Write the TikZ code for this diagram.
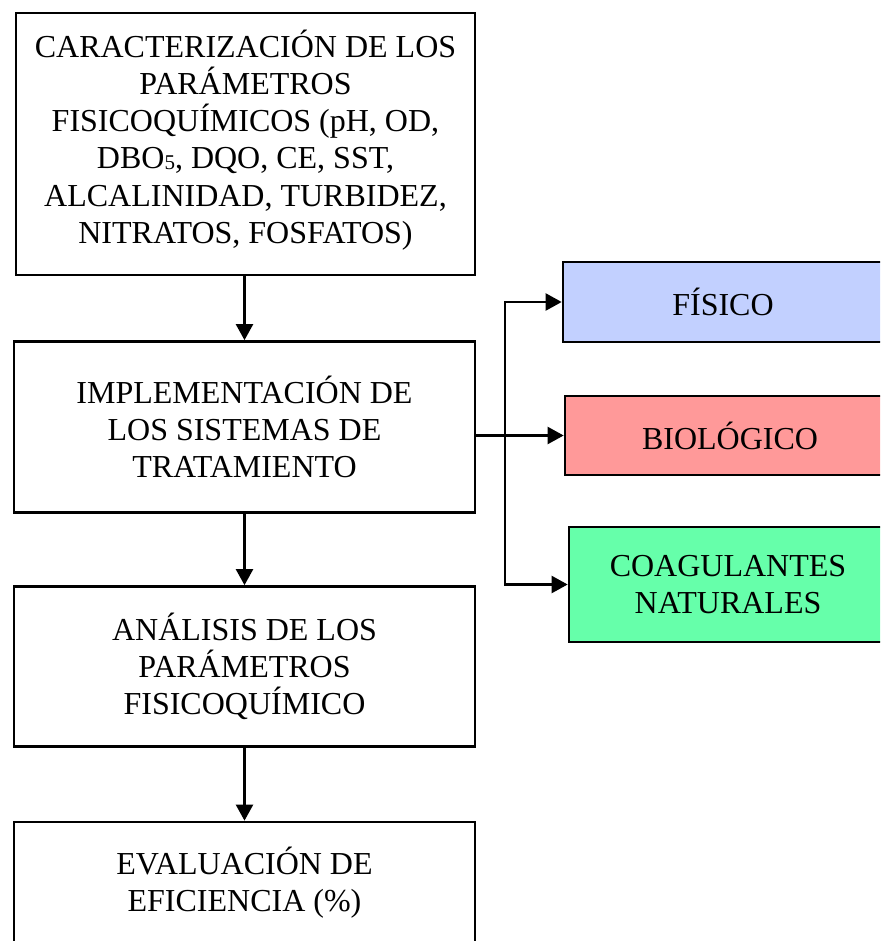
\documentclass[tikz,border=0pt]{standalone}
\usepackage{fontspec}
\setmainfont{Liberation Serif}
\usetikzlibrary{arrows.meta}
\definecolor{fisblue}{RGB}{194,208,255}
\definecolor{biored}{RGB}{255,153,153}
\definecolor{coagreen}{RGB}{102,255,170}
\begin{document}
\begin{tikzpicture}[x=1pt,y=-1pt,
  box/.style={draw, line width=2.7pt, inner sep=0pt, align=center,
    font=\fontsize{32}{37.2}\selectfont},
  arr/.style={line width=2.3pt, -{Triangle[width=17pt,length=16pt]}}]
\useasboundingbox (0,0) rectangle (880,941);
\clip (0,0) rectangle (880,941);
\node[box, minimum width=459pt, minimum height=262pt] (c) at (245.5,144) {};
\node[align=center, inner sep=0pt, font=\fontsize{32}{37.2}\selectfont] (ct) at (245.5,140)
  {CARACTERIZACIÓN DE LOS\\PARÁMETROS\\FISICOQUÍMICOS (pH, OD,\\DBO{\fontsize{21}{21}\selectfont\raisebox{-1pt}{5}}, DQO, CE, SST,\\ALCALINIDAD, TURBIDEZ,\\NITRATOS, FOSFATOS)};
\node[box, minimum width=461pt, minimum height=171pt] (i) at (244.5,427)
  {IMPLEMENTACIÓN DE\\LOS SISTEMAS DE\\TRATAMIENTO};
\node[box, minimum width=461pt, minimum height=160pt] (a) at (244.5,666.5)
  {ANÁLISIS DE LOS\\PARÁMETROS\\FISICOQUÍMICO};
\node[box, minimum width=461pt, minimum height=122pt] (e) at (244.5,883)
  {EVALUACIÓN DE\\EFICIENCIA (\%)};
\node[box, fill=fisblue, minimum width=320pt, minimum height=80pt] (f) at (723,302) {FÍSICO};
\node[box, fill=biored, minimum width=330pt, minimum height=79pt] (b) at (730,435.5) {BIOLÓGICO};
\node[box, fill=coagreen, minimum width=318pt, minimum height=115pt] (g) at (728,584.5) {COAGULANTES\\NATURALES};
\coordinate (jn) at (505,435.5);
\draw[arr] (i.north |- c.south) -- (i.north);
\draw[arr] (i.south) -- (a.north);
\draw[arr] (a.south) -- (e.north);
\draw[arr] (i.east |- b.west) -- (b.west);
\draw[arr] (jn) |- (f.west);
\draw[arr] (jn) |- (g.west);
\end{tikzpicture}
\end{document}
